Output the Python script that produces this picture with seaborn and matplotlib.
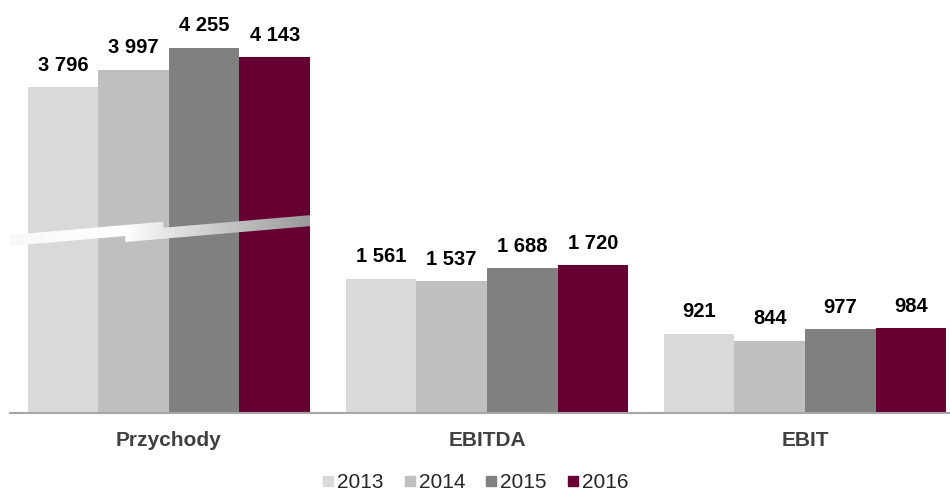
import numpy as np
import pandas as pd
import matplotlib
matplotlib.use("Agg")
import matplotlib.pyplot as plt
from matplotlib.patches import Polygon
import seaborn as sns

# ----------------------------------------------------------
# Data
# ----------------------------------------------------------
categories = ["Przychody", "EBITDA", "EBIT"]
years = ["2013", "2014", "2015", "2016"]
values_2013 = [3796, 1561, 921]
values_2014 = [3997, 1537, 844]
values_2015 = [4255, 1688, 977]
values_2016 = [4143, 1720, 984]
colors = ["#D9D9D9", "#BFBFBF", "#808080", "#660033"]

rows = []
for year, vals in zip(years, [values_2013, values_2014, values_2015, values_2016]):
    for cat, v in zip(categories, vals):
        rows.append({"kategoria": cat, "rok": year, "wartosc": v})
df = pd.DataFrame(rows)


def fmt(v):
    return f"{int(v):,}".replace(",", " ")


# ----------------------------------------------------------
# Plot
# ----------------------------------------------------------
sns.set_style("white")
plt.rcParams["font.family"] = ["Liberation Sans", "DejaVu Sans"]

fig = plt.figure(figsize=(9.5, 4.95), dpi=100)
ax = fig.add_axes([0.0105, 0.1657, 0.9895, 0.8343])

sns.barplot(
    data=df, x="kategoria", y="wartosc", hue="rok",
    palette=colors, width=0.887, gap=0, saturation=1,
    linewidth=0, ax=ax, legend=False,
)

ax.set_ylim(0, 4810)
ax.set_xlim(-0.5, 2.456)

for container in ax.containers:
    labels = [fmt(b.get_height()) for b in container]
    ax.bar_label(container, labels=labels, padding=9,
                 fontsize=14.5, fontweight="bold", color="black")

# break marker on the Przychody bars (decorative)
first_bars = [c[0] for c in ax.containers]
x_left = -0.5
x_right = first_bars[-1].get_x() + first_bars[-1].get_width()
x_step = first_bars[1].get_x() + first_bars[1].get_width() * 0.38
x_over = first_bars[1].get_x() + first_bars[1].get_width() * 0.92
slope = 318.0       # rise per x unit
th = 128.0          # band thickness
off = 70.0          # left piece sits higher
yt_l0 = 2074.0      # left piece top at x_left


def yt_left(x):
    return yt_l0 + slope * (x - x_left)


def yt_right(x):
    return yt_left(x) - off


pts = [
    (x_left, yt_left(x_left) - th),
    (x_step, yt_left(x_step) - th),
    (x_step, yt_right(x_step) - th),
    (x_right, yt_right(x_right) - th),
    (x_right, yt_right(x_right)),
    (x_over, yt_right(x_over)),
    (x_over, yt_left(x_over)),
    (x_left, yt_left(x_left)),
]
poly = Polygon(pts, closed=True, facecolor="none", edgecolor="none")
ax.add_patch(poly)
grad = np.linspace(0, 1, 256).reshape(1, -1)
cmap = matplotlib.colors.LinearSegmentedColormap.from_list(
    "brk", [(0.0, "#F8F8F8"), (0.38, "#FFFFFF"), (0.52, "#E6E6E6"),
            (1.0, "#999999")])
im = ax.imshow(grad, cmap=cmap, aspect="auto",
               extent=[x_left, x_right, yt_right(x_left) - th - 100,
                       yt_left(x_right) + 100],
               zorder=5)
im.set_clip_path(poly)
ax.set_xlim(-0.5, 2.456)
ax.set_ylim(0, 4810)

ax.set_xlabel("")
ax.set_ylabel("")
ax.set_yticks([])
ax.tick_params(axis="x", length=0, pad=13)
for lbl in ax.get_xticklabels():
    lbl.set_fontsize(15)
    lbl.set_fontweight("bold")
    lbl.set_color("#404040")

for side in ["top", "right", "left"]:
    ax.spines[side].set_visible(False)
ax.spines["bottom"].set_color("#A6A6A6")
ax.spines["bottom"].set_linewidth(1.5)

handles = [plt.Line2D([], [], marker="s", linestyle="", markersize=7.2,
                      markerfacecolor=c, markeredgecolor=c) for c in colors]
fig.legend(handles, years, loc="lower center", ncol=4, frameon=False,
           bbox_to_anchor=(0.5, -0.032), fontsize=15, handletextpad=0.13,
           columnspacing=0.95, handlelength=0.6)

fig.savefig("out.png", dpi=100)
